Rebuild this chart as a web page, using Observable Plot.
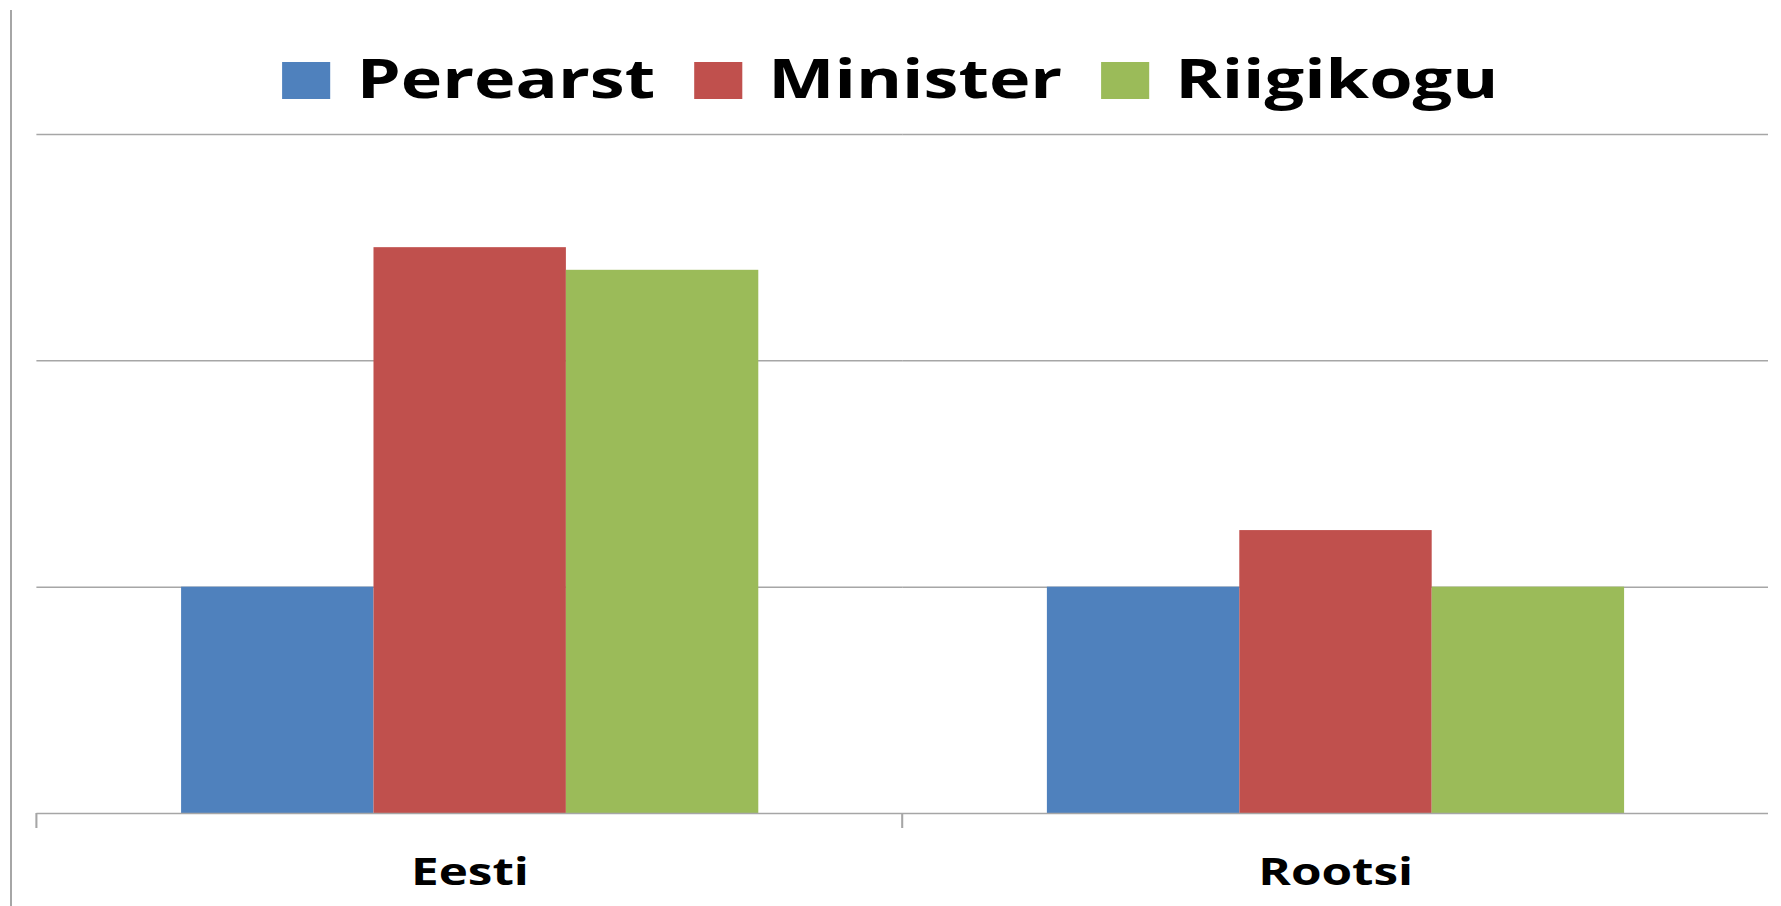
<!DOCTYPE html>
<html><head><meta charset="utf-8">
<script src="https://cdn.jsdelivr.net/npm/d3@7"></script>
<script src="https://cdn.jsdelivr.net/npm/@observablehq/plot@0.6"></script>
<style>
html,body{margin:0;padding:0;background:#fff;}
body{width:1781px;height:906px;position:relative;overflow:hidden;}
#edge{position:absolute;left:10px;top:10px;width:2px;height:896px;background:#a6a6a6;}
#wrap{position:absolute;left:0;top:0;width:1370px;transform:scaleX(1.3);transform-origin:0 0;}
#legend{height:120px;box-sizing:border-box;padding-top:50px;display:flex;justify-content:center;align-items:flex-start;font:bold 54px "Open Sans",sans-serif;line-height:55px;color:#000;}
.item{display:flex;align-items:center;margin:0 15px;}
.sw{width:37px;height:37px;margin-right:20px;position:relative;top:3px;}
#wrap svg text{font-family:"Open Sans",sans-serif;font-weight:bold;font-size:38px;fill:#000;}
</style>
</head><body>
<div id="edge"></div>
<div id="wrap"><div id="legend"></div><div id="chart"></div></div>
<script>
const countries = ["Eesti", "Rootsi"];
const series = ["Perearst", "Minister", "Riigikogu"];
const perearst = [2, 2];
const minister = [5, 2.5];
const riigikogu = [4.8, 2];
const colors = ["#4F81BD", "#C0504D", "#9BBB59"];
const gridTicks = [0, 2, 4, 6];

const values = [perearst, minister, riigikogu];
const data = countries.flatMap((c, i) => series.map((s, j) => ({country: c, series: s, value: values[j][i]})));

// legend
const legend = document.getElementById("legend");
series.forEach((s, j) => {
  const item = document.createElement("div");
  item.className = "item";
  const sw = document.createElement("span");
  sw.className = "sw";
  sw.style.background = colors[j];
  const t = document.createElement("span");
  t.textContent = s;
  item.appendChild(sw); item.appendChild(t);
  legend.appendChild(item);
});

const chart = Plot.plot({
  width: 1370,
  height: 786,
  marginTop: 14,
  marginBottom: 93,
  marginLeft: 27.7,
  marginRight: 9.2,
  facet: {data, x: "country"},
  fx: {domain: countries, padding: 0, axis: "bottom", label: null, tickSize: 0, tickPadding: 45},
  x: {domain: series, paddingInner: 0, paddingOuter: 0.75, axis: null},
  y: {domain: [gridTicks[0], gridTicks[gridTicks.length - 1]], axis: null},
  color: {domain: series, range: colors},
  marks: [
    Plot.ruleY(gridTicks.slice(1), {stroke: "#a6a6a6", strokeWidth: 1.5}),
    Plot.barY(data, {x: "series", y: "value", fill: "series"}),
    Plot.ruleY([gridTicks[0]], {stroke: "#a6a6a6", strokeWidth: 1.5})
  ]
});
document.getElementById("chart").appendChild(chart);

// category boundary ticks on the baseline (left edge of each category band), from the library's scales
const fx = chart.scale("fx");
const ys = chart.scale("y");
const y0 = ys.apply ? ys.apply(0) : ys.range[0];
let bounds;
if (fx.apply) {
  bounds = countries.map(c => fx.apply(c));
} else {
  const [r0, r1] = fx.range;
  bounds = d3.range(countries.length).map(i => r0 + i * (r1 - r0) / countries.length);
}
d3.select(chart).append("g")
  .selectAll("line").data(bounds).join("line")
  .attr("x1", d => d).attr("x2", d => d)
  .attr("y1", y0).attr("y2", y0 + 15)
  .attr("stroke", "#a6a6a6").attr("stroke-width", 1.6);
</script>
</body></html>
